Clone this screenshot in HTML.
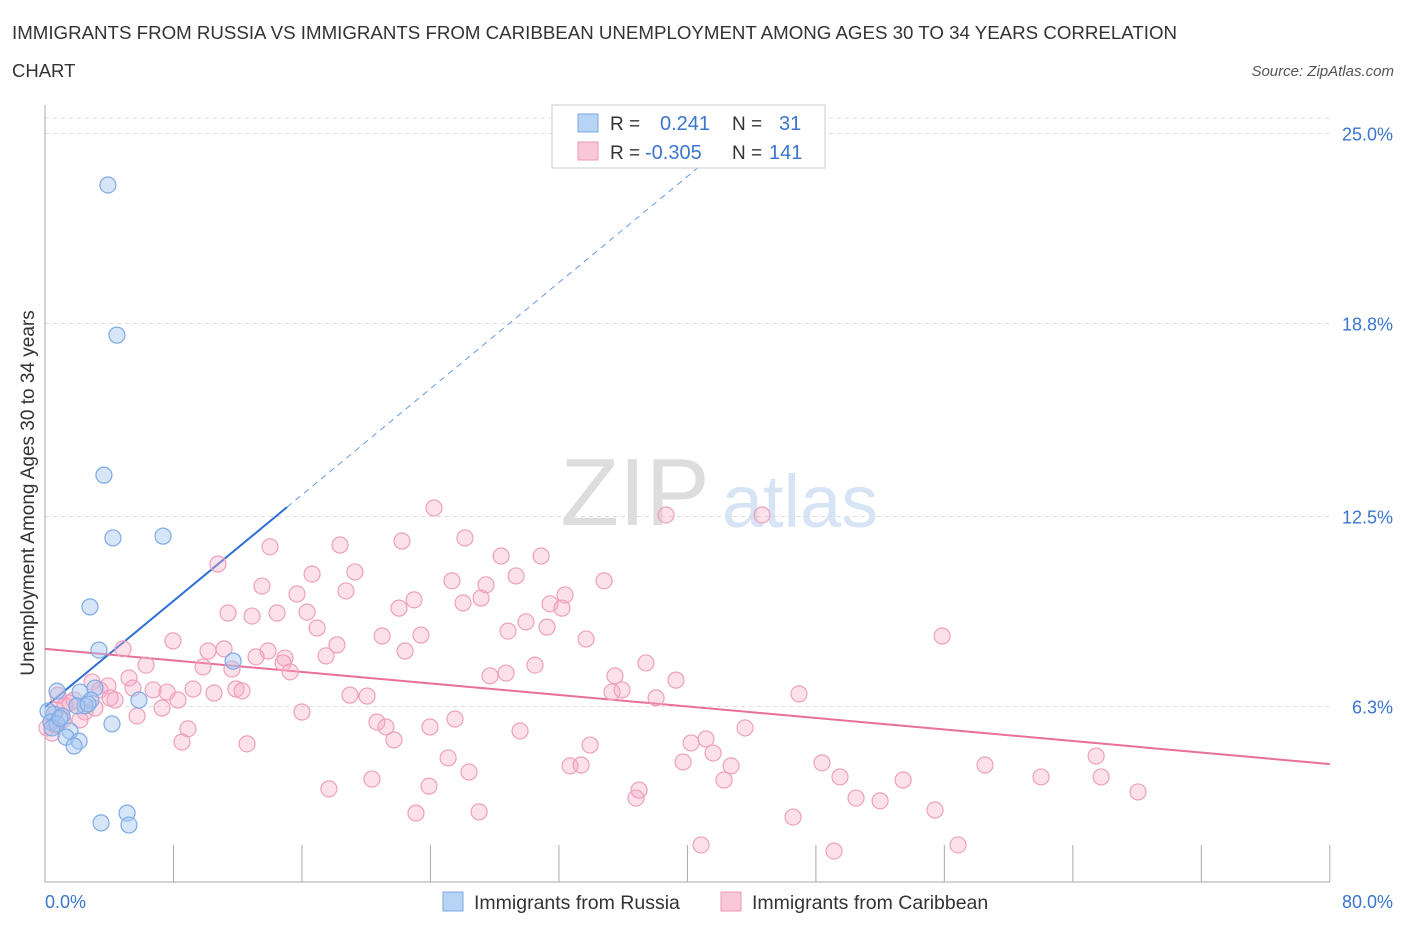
<!DOCTYPE html>
<html><head><meta charset="utf-8"><style>
body{margin:0;background:#fff;font-family:"Liberation Sans",sans-serif;}
svg text{font-family:"Liberation Sans",sans-serif;}
</style></head><body>
<svg id="chart" width="1406" height="930" xmlns="http://www.w3.org/2000/svg">
<text x="12" y="39" font-size="18.5" fill="#333" textLength="1165" lengthAdjust="spacingAndGlyphs">IMMIGRANTS FROM RUSSIA VS IMMIGRANTS FROM CARIBBEAN UNEMPLOYMENT AMONG AGES 30 TO 34 YEARS CORRELATION</text>
<text x="12" y="77" font-size="18.5" fill="#333">CHART</text>
<text x="1394" y="76" font-size="15" fill="#555" font-style="italic" text-anchor="end">Source: ZipAtlas.com</text>
<g>
<text x="635" y="525" font-size="96" fill="#ddd" text-anchor="middle" font-family="Liberation Serif">ZIP</text>
<text x="800" y="527" font-size="74" fill="#d6e4f5" text-anchor="middle">atlas</text>
</g>
<g id="grid"></g>
<line x1="45" y1="105" x2="45" y2="882" stroke="#aaa"/>
<line x1="45" y1="882" x2="1330" y2="882" stroke="#aaa"/>
<g id="xticks"></g>
<text transform="translate(34,493) rotate(-90)" font-size="19" fill="#333" text-anchor="middle">Unemployment Among Ages 30 to 34 years</text>
<text x="45" y="908" font-size="18" fill="#3a75d0">0.0%</text>
<text x="1393" y="908" font-size="18" fill="#3a75d0" text-anchor="end">80.0%</text>
<g id="lines"></g>
<g id="pink"></g>
<g id="blue"></g>
<g>
<rect x="552" y="105" width="273" height="63" fill="#fff" stroke="#ccc"/>
<rect x="578" y="114" width="20" height="18" fill="#b8d4f5" stroke="#7aa8e0"/>
<rect x="578" y="142" width="20" height="18" fill="#f9c8d8" stroke="#eb9ab5"/>
<text x="610" y="130" font-size="19" fill="#333">R =</text>
<text x="660" y="130" font-size="20" fill="#3a75d0">0.241</text>
<text x="732" y="130" font-size="19" fill="#333">N =</text>
<text x="779" y="130" font-size="20" fill="#3a75d0">31</text>
<text x="610" y="159" font-size="19" fill="#333">R =</text>
<text x="645" y="159" font-size="20" fill="#3a75d0">-0.305</text>
<text x="732" y="159" font-size="19" fill="#333">N =</text>
<text x="769" y="159" font-size="20" fill="#3a75d0">141</text>
</g>
<g>
<rect x="443" y="892" width="20" height="19" fill="#b8d4f5" stroke="#7aa8e0"/>
<text x="474" y="909" font-size="19.5" fill="#333">Immigrants from Russia</text>
<rect x="721" y="892" width="20" height="19" fill="#f9c8d8" stroke="#eb9ab5"/>
<text x="752" y="909" font-size="19.5" fill="#333">Immigrants from Caribbean</text>
</g>
</svg>
<script>
const yTicks=[25.0,18.8,12.5,6.3];
const yTickLabels=["25.0%","18.8%","12.5%","6.3%"];
const xTickVals=[0,8,16,24,32,40,48,56,64,72,80];
const russiaX=[3.92,4.48,3.67,4.23,7.35,2.80,3.36,11.71,0.75,2.18,3.11,5.85,2.86,2.49,1.99,1.06,0.56,0.19,0.37,0.75,0.44,1.56,1.31,2.12,1.81,4.17,5.11,3.49,5.23,0.93,2.68];
const russiaY=[23.32,18.42,13.85,11.80,11.86,9.55,8.14,7.78,6.80,6.77,6.90,6.51,6.51,6.32,6.32,5.99,6.05,6.15,5.79,5.73,5.60,5.50,5.30,5.17,5.01,5.73,2.82,2.50,2.43,5.92,6.38];
const caribX=[24.22,38.67,44.65,26.15,22.23,18.37,14.01,28.40,30.89,10.77,29.33,19.30,34.81,25.34,13.51,16.63,27.46,18.74,32.38,15.69,22.98,22.04,26.03,27.15,31.45,32.19,11.40,12.89,14.45,16.32,29.95,16.94,20.99,23.41,28.83,31.26,33.69,7.97,55.86,4.86,10.15,11.15,13.89,17.50,18.18,22.42,13.14,14.94,6.29,9.84,11.64,14.82,15.26,30.51,37.42,27.71,28.71,35.49,39.29,5.23,2.93,3.92,5.48,6.73,7.60,9.22,10.52,11.89,12.27,8.28,18.99,20.05,35.31,35.93,38.05,46.95,4.36,7.29,5.73,16.00,25.53,20.67,21.23,23.97,29.58,8.90,8.53,12.58,21.73,33.94,40.23,41.16,41.60,43.59,39.73,25.10,32.69,33.38,42.72,48.38,26.40,49.50,53.43,58.53,62.02,65.45,65.76,68.06,20.36,23.91,17.68,36.99,42.28,36.80,50.50,52.00,23.10,27.03,55.42,46.58,40.85,49.13,56.85,0.81,1.56,2.49,1.12,0.44,0.12,0.68,1.81,3.42,2.18,3.11,4.05,0.62,1.25];
const caribY=[12.78,12.55,12.55,11.80,11.70,11.57,11.51,11.21,11.21,10.95,10.56,10.69,10.40,10.40,10.23,10.62,10.27,10.07,9.94,9.97,9.78,9.51,9.68,9.84,9.65,9.51,9.35,9.25,9.35,9.38,9.06,8.86,8.60,8.63,8.76,8.89,8.50,8.44,8.60,8.18,8.11,8.18,8.11,7.95,8.31,8.11,7.92,7.88,7.65,7.59,7.52,7.72,7.43,7.65,7.72,7.30,7.39,7.30,7.16,7.23,7.10,6.97,6.90,6.84,6.77,6.87,6.74,6.87,6.81,6.51,6.67,6.64,6.77,6.84,6.58,6.71,6.51,6.25,5.99,6.12,5.89,5.79,5.63,5.63,5.50,5.57,5.14,5.08,5.21,5.04,5.11,5.24,4.78,5.60,4.49,4.62,4.36,4.39,4.36,4.46,4.16,4.00,3.90,4.39,4.00,4.68,4.00,3.51,3.93,3.70,3.61,3.57,3.90,3.31,3.31,3.22,2.82,2.86,2.92,2.69,1.78,1.58,1.78,6.67,6.41,6.12,5.86,5.43,5.60,6.19,6.51,6.84,5.86,6.25,6.58,5.70,6.32];
const russiaTrend=[6.28,0.433];
const caribTrend=[8.18,-0.047];
const NS="http://www.w3.org/2000/svg";
function sx(v){return 45+v*16.06;}
function sy(v){return 899.5-v*30.64;}
function mk(tag,attrs,parent){const e=document.createElementNS(NS,tag);for(const k in attrs)e.setAttribute(k,attrs[k]);parent.appendChild(e);return e;}
const grid=document.getElementById('grid');
const gt=mk('line',{x1:45,x2:1330,y1:118,y2:118,stroke:'#ddd','stroke-dasharray':'4,4'},grid);


yTicks.forEach((v,i)=>{
 const l=mk('line',{x1:45,x2:1330,y1:sy(v),y2:sy(v),stroke:'#ddd','stroke-dasharray':'4,4'},grid);
 
 
 const t=mk('text',{x:1393,y:sy(v)+7,'font-size':18,fill:'#3a75d0','text-anchor':'end'},grid);
 t.textContent=yTickLabels[i];
 
 
});
const xt=document.getElementById('xticks');
xTickVals.forEach(v=>{
 const l=mk('line',{x1:sx(v),x2:sx(v),y1:845,y2:882,stroke:'#aaa'},xt);
 
 
});
const lg=document.getElementById('lines');
const rx0=0,rx1=15.07,rx2=40.8;
const l1=mk('line',{x1:sx(rx0),y1:sy(russiaTrend[0]),x2:sx(rx1),y2:sy(russiaTrend[0]+russiaTrend[1]*rx1),stroke:'#2f6fd6','stroke-width':2},lg);


const l2=mk('line',{x1:sx(rx1),y1:sy(russiaTrend[0]+russiaTrend[1]*rx1),x2:sx(rx2),y2:sy(russiaTrend[0]+russiaTrend[1]*rx2),stroke:'#6a9ae0','stroke-width':1,'stroke-dasharray':'6,5'},lg);


const l3=mk('line',{x1:sx(0),y1:sy(caribTrend[0]),x2:sx(80),y2:sy(caribTrend[0]+caribTrend[1]*80),stroke:'#e8709a','stroke-width':2},lg);


const pg=document.getElementById('pink');
caribX.forEach((x,i)=>{
 const c=mk('circle',{cx:sx(x),cy:sy(caribY[i]),r:8,fill:'rgba(246,170,198,0.35)',stroke:'#eea0bb','stroke-width':1.2},pg);
 
 
});
const bg=document.getElementById('blue');
russiaX.forEach((x,i)=>{
 const c=mk('circle',{cx:sx(x),cy:sy(russiaY[i]),r:8,fill:'rgba(165,198,240,0.45)',stroke:'#7eaae6','stroke-width':1.2},bg);
 
 
});
</script>
</body></html>
